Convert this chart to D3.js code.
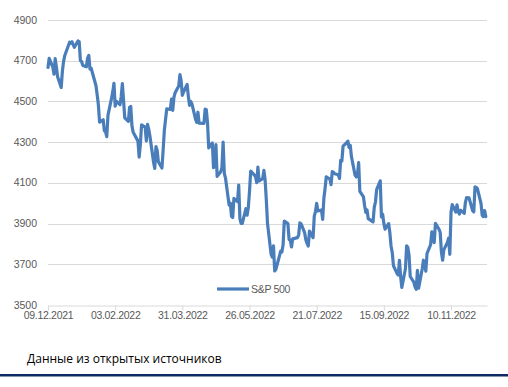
<!DOCTYPE html>
<html><head><meta charset="utf-8">
<script src="https://cdn.jsdelivr.net/npm/d3@7"></script>
<style>body{margin:0;background:#fff;}svg{display:block;}</style>
</head><body>
<svg id="c" width="508" height="387"></svg>
<script>
const dates = ["2021-12-09","2021-12-10","2021-12-13","2021-12-14","2021-12-15","2021-12-16","2021-12-17","2021-12-20","2021-12-21","2021-12-22","2021-12-23","2021-12-27","2021-12-28","2021-12-29","2021-12-30","2021-12-31",
"2022-01-03","2022-01-04","2022-01-05","2022-01-06","2022-01-07","2022-01-10","2022-01-11","2022-01-12","2022-01-13","2022-01-14","2022-01-18","2022-01-19","2022-01-20","2022-01-21","2022-01-24","2022-01-25","2022-01-26","2022-01-27","2022-01-28","2022-01-31",
"2022-02-01","2022-02-02","2022-02-03","2022-02-04","2022-02-07","2022-02-08","2022-02-09","2022-02-10","2022-02-11","2022-02-14","2022-02-15","2022-02-16","2022-02-17","2022-02-18","2022-02-22","2022-02-23","2022-02-24","2022-02-25","2022-02-28",
"2022-03-01","2022-03-02","2022-03-03","2022-03-04","2022-03-07","2022-03-08","2022-03-09","2022-03-10","2022-03-11","2022-03-14","2022-03-15","2022-03-16","2022-03-17","2022-03-18","2022-03-21","2022-03-22","2022-03-23","2022-03-24","2022-03-25","2022-03-28","2022-03-29","2022-03-30","2022-03-31",
"2022-04-01","2022-04-04","2022-04-05","2022-04-06","2022-04-07","2022-04-08","2022-04-11","2022-04-12","2022-04-13","2022-04-14","2022-04-18","2022-04-19","2022-04-20","2022-04-21","2022-04-22","2022-04-25","2022-04-26","2022-04-27","2022-04-28","2022-04-29",
"2022-05-02","2022-05-03","2022-05-04","2022-05-05","2022-05-06","2022-05-09","2022-05-10","2022-05-11","2022-05-12","2022-05-13","2022-05-16","2022-05-17","2022-05-18","2022-05-19","2022-05-20","2022-05-23","2022-05-24","2022-05-25","2022-05-26","2022-05-27","2022-05-31",
"2022-06-01","2022-06-02","2022-06-03","2022-06-06","2022-06-07","2022-06-08","2022-06-09","2022-06-10","2022-06-13","2022-06-14","2022-06-15","2022-06-16","2022-06-17","2022-06-21","2022-06-22","2022-06-23","2022-06-24","2022-06-27","2022-06-28","2022-06-29","2022-06-30",
"2022-07-01","2022-07-05","2022-07-06","2022-07-07","2022-07-08","2022-07-11","2022-07-12","2022-07-13","2022-07-14","2022-07-15","2022-07-18","2022-07-19","2022-07-20","2022-07-21","2022-07-22","2022-07-25","2022-07-26","2022-07-27","2022-07-28","2022-07-29",
"2022-08-01","2022-08-02","2022-08-03","2022-08-04","2022-08-05","2022-08-08","2022-08-09","2022-08-10","2022-08-11","2022-08-12","2022-08-15","2022-08-16","2022-08-17","2022-08-18","2022-08-19","2022-08-22","2022-08-23","2022-08-24","2022-08-25","2022-08-26","2022-08-29","2022-08-30","2022-08-31",
"2022-09-01","2022-09-02","2022-09-06","2022-09-07","2022-09-08","2022-09-09","2022-09-12","2022-09-13","2022-09-14","2022-09-15","2022-09-16","2022-09-19","2022-09-20","2022-09-21","2022-09-22","2022-09-23","2022-09-26","2022-09-27","2022-09-28","2022-09-29","2022-09-30",
"2022-10-03","2022-10-04","2022-10-05","2022-10-06","2022-10-07","2022-10-10","2022-10-11","2022-10-12","2022-10-13","2022-10-14","2022-10-17","2022-10-18","2022-10-19","2022-10-20","2022-10-21","2022-10-24","2022-10-25","2022-10-26","2022-10-27","2022-10-28","2022-10-31",
"2022-11-01","2022-11-02","2022-11-03","2022-11-04","2022-11-07","2022-11-08","2022-11-09","2022-11-10","2022-11-11","2022-11-14","2022-11-15","2022-11-16","2022-11-17","2022-11-18","2022-11-21","2022-11-22","2022-11-23","2022-11-25","2022-11-28","2022-11-29","2022-11-30",
"2022-12-01","2022-12-02","2022-12-05","2022-12-06","2022-12-07","2022-12-08","2022-12-09"];
const spx = [4667,4712,4669,4634,4710,4669,4621,4568,4649,4697,4726,4791,4786,4793,4779,4766,
4797,4794,4701,4696,4677,4670,4713,4726,4659,4663,4577,4533,4483,4398,4410,4356,4350,4327,4432,4516,
4547,4589,4477,4501,4484,4522,4587,4504,4419,4402,4471,4475,4380,4349,4305,4226,4289,4385,4374,
4306,4387,4363,4329,4201,4171,4278,4260,4204,4173,4262,4358,4412,4463,4461,4512,4456,4520,4543,4576,4632,4602,4530,
4546,4583,4525,4481,4500,4488,4413,4397,4447,4393,4392,4462,4459,4394,4272,4296,4175,4184,4288,4132,
4155,4175,4300,4147,4123,3991,4001,3935,3930,4024,4008,4089,3924,3901,3901,3974,3941,3979,4058,4158,4132,
4101,4177,4109,4121,4161,4116,4018,3901,3750,3735,3790,3667,3675,3765,3760,3796,3912,3900,3822,3819,3785,
3825,3831,3845,3903,3899,3854,3819,3802,3790,3863,3831,3937,3960,3999,3962,3967,3921,4024,4072,4130,
4119,4091,4155,4152,4145,4140,4122,4210,4207,4280,4297,4305,4274,4284,4228,4138,4129,4141,4199,4058,4031,3986,3955,
3967,3924,3908,3980,4006,4067,4110,3933,3946,3901,3873,3900,3856,3790,3758,3693,3655,3647,3719,3640,3586,
3678,3791,3783,3745,3640,3612,3589,3577,3670,3583,3678,3720,3695,3666,3753,3797,3859,3831,3807,3901,3872,
3856,3760,3720,3771,3807,3828,3749,3956,3993,3957,3992,3959,3947,3965,3950,4004,4027,4026,3964,3958,4080,
4077,4072,3999,3941,3934,3964,3934];
const yTicks = [3500,3700,3900,4100,4300,4500,4700,4900];
const xTickLabels = ["09.12.2021","03.02.2022","31.03.2022","26.05.2022","21.07.2022","15.09.2022","10.11.2022"];
const seriesName = "S&P 500";
const caption = "Данные из открытых источников";

const parse = d3.timeParse("%Y-%m-%d");
const parseLbl = d3.timeParse("%d.%m.%Y");
const data = dates.map((d,i)=>({date:parse(d), v:spx[i]}));

const svg = d3.select("#c");
const x = d3.scaleTime().domain([parse("2021-12-09"), parse("2022-12-10")]).range([48, 487]);
const y = d3.scaleLinear().domain([3500,4900]).range([305,20]);
const grey = "#595959";
const font = "Liberation Sans, Arial, sans-serif";

svg.append("g").selectAll("line").data(yTicks.slice(1)).join("line")
  .attr("x1",48).attr("x2",487)
  .attr("y1",d=>Math.round(y(d))+0.5).attr("y2",d=>Math.round(y(d))+0.5)
  .attr("stroke","#d9d9d9").attr("stroke-width",1);

svg.append("g").selectAll("text").data(yTicks).join("text")
  .attr("x",37).attr("y",d=>y(d)+3.5)
  .attr("text-anchor","end").attr("font-family",font).attr("font-size",10.5)
  .attr("fill",grey).text(d=>d);

const xa = d3.axisBottom(x).tickValues(xTickLabels.map(parseLbl)).tickSize(5).tickSizeOuter(0)
  .tickFormat(d3.timeFormat("%d.%m.%Y"));
const gx = svg.append("g").attr("transform","translate(0,305.5)").call(xa);
gx.select(".domain").attr("stroke","#d9d9d9");
gx.selectAll(".tick line").attr("stroke","#d9d9d9");
gx.selectAll(".tick text").attr("fill",grey).attr("font-family",font).attr("font-size",10.5)
  .attr("dy","0.5em").attr("letter-spacing","-0.3");

const line = d3.line().x(d=>x(d.date)).y(d=>y(d.v)).curve(d3.curveLinear);
svg.append("path").datum(data).attr("d",line)
  .attr("fill","none").attr("stroke","#4a7ebb").attr("stroke-width",3.2)
  .attr("stroke-linejoin","round").attr("stroke-linecap","round");

svg.append("line").attr("x1",217).attr("x2",249).attr("y1",289).attr("y2",289)
  .attr("stroke","#4a7ebb").attr("stroke-width",3.2);
svg.append("text").attr("x",251).attr("y",292.5).attr("font-family",font).attr("font-size",10.5)
  .attr("fill",grey).attr("letter-spacing","-0.3").text(seriesName);

svg.append("text").attr("x",27).attr("y",362.5).attr("font-family","Open Sans, sans-serif")
  .attr("font-size",12).attr("fill","#000").text(caption);

svg.append("rect").attr("x",0).attr("y",374).attr("width",508).attr("height",2.5).attr("fill","#0f2a62");
</script>
</body></html>
